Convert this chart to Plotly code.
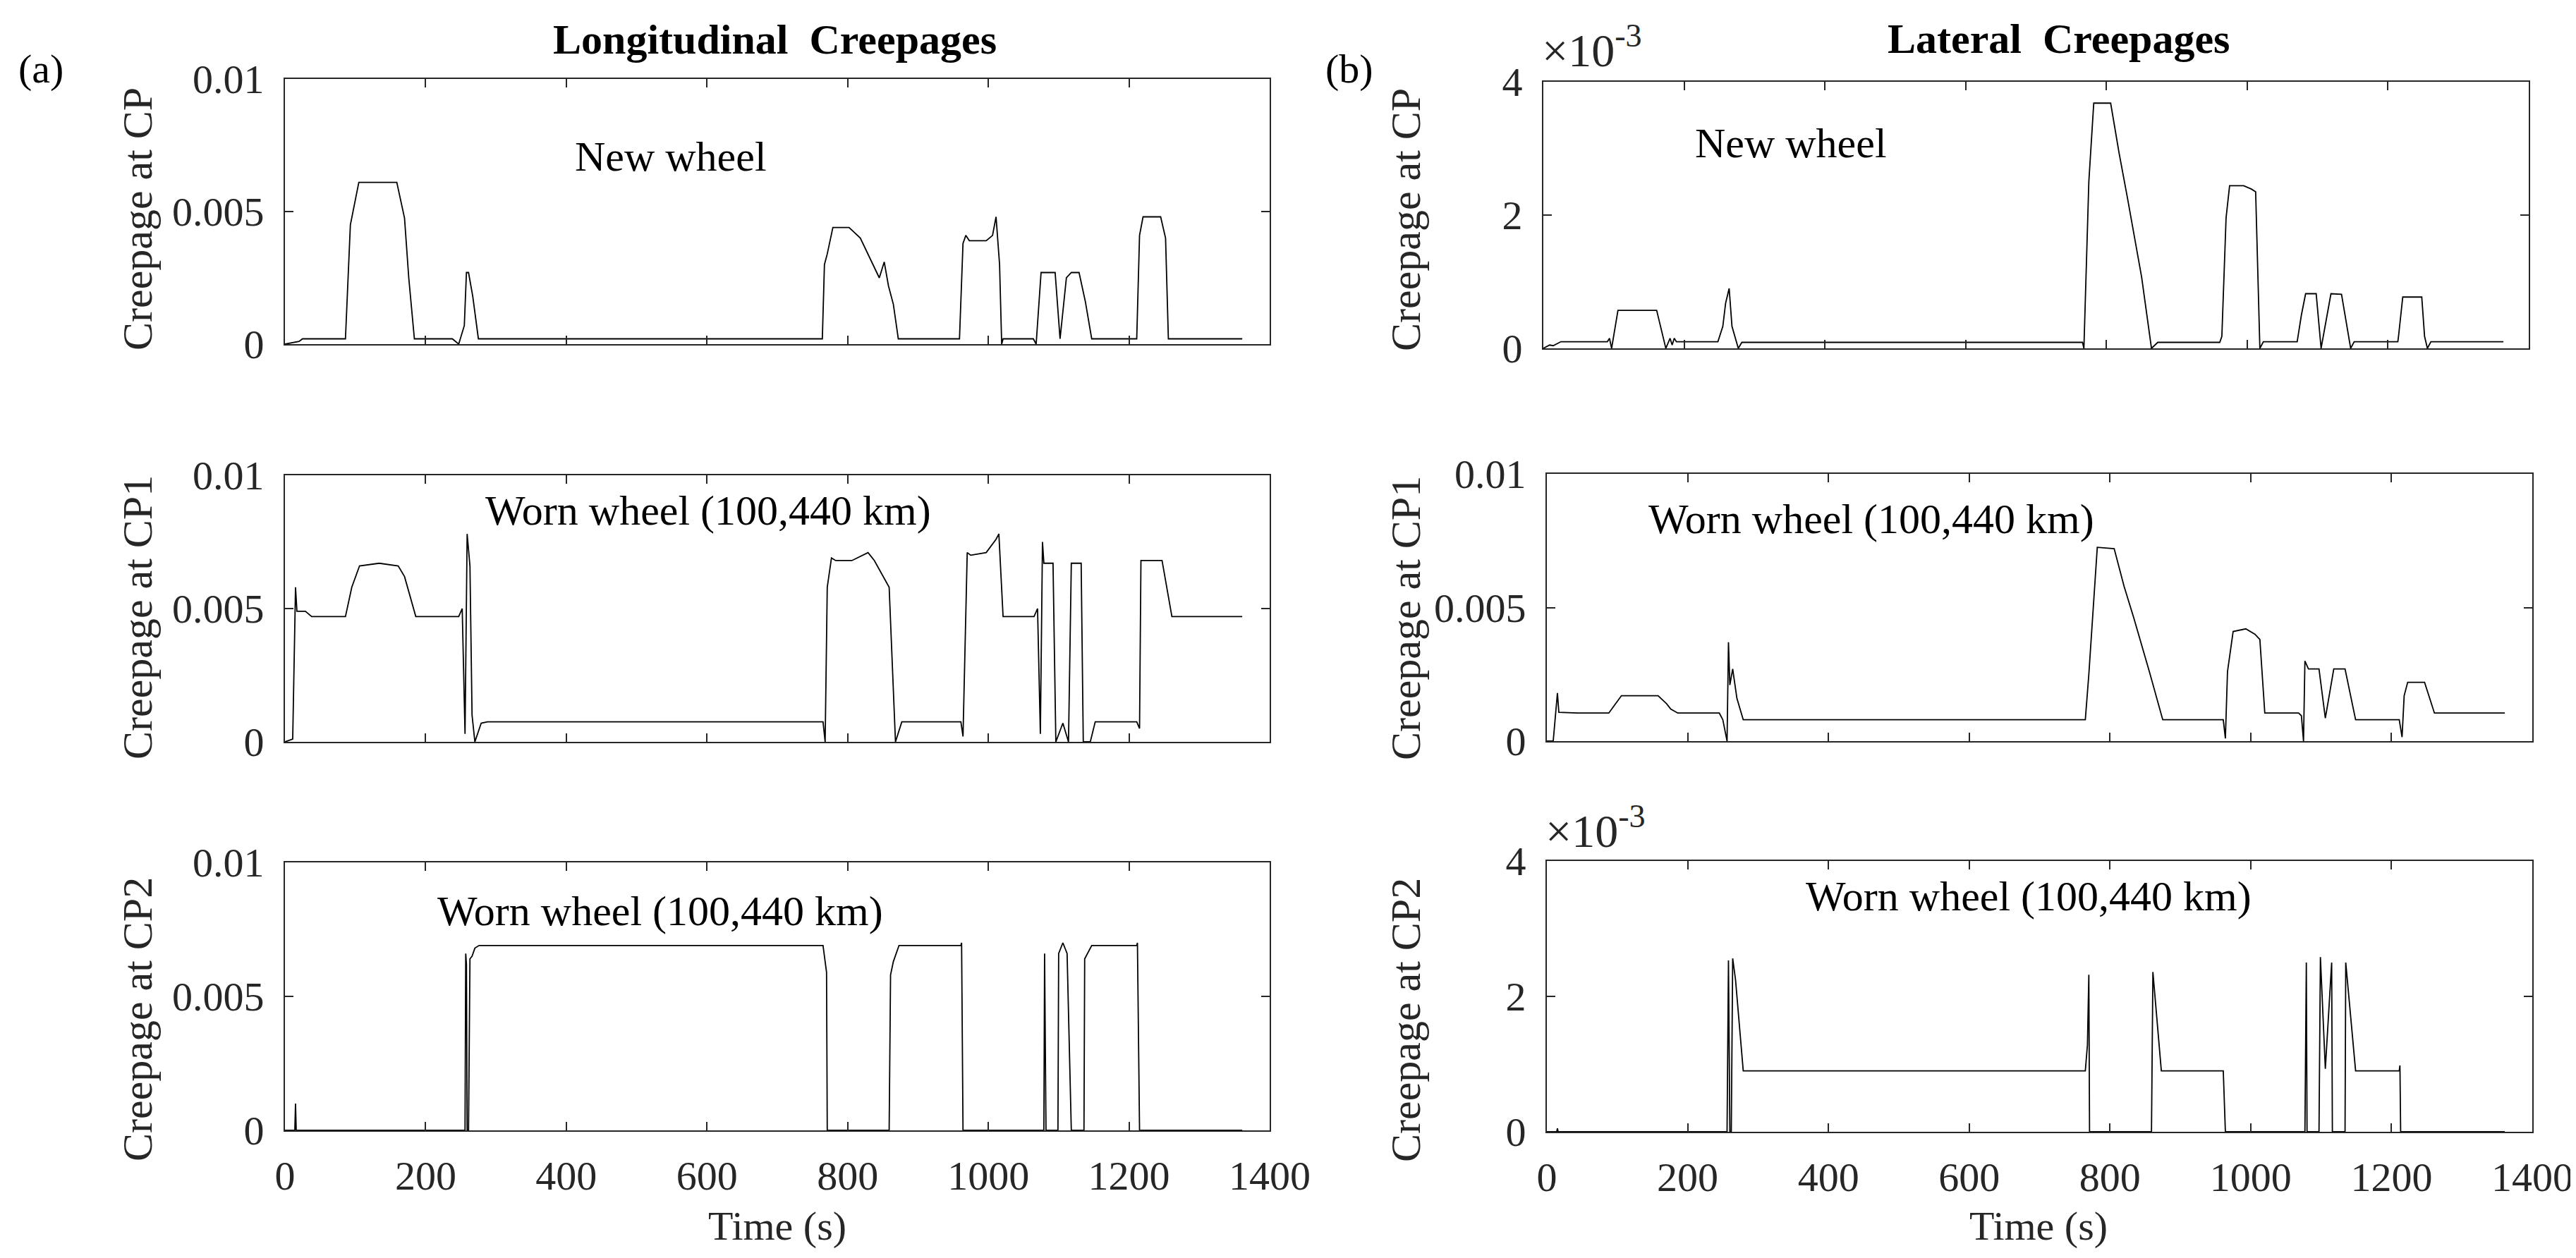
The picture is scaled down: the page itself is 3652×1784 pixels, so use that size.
import plotly.graph_objects as go
from plotly.subplots import make_subplots

# ---- data (time in s) ----
# (a) longitudinal creepage, new wheel, CP
t_long_cp = [0, 20, 25, 86, 93, 105, 159, 170, 176, 184, 238, 247, 255, 258, 261, 267, 275,
             764, 767, 771, 779, 802, 818, 827, 845, 852, 858, 865, 872,
             959, 964, 968, 973, 997, 1006, 1011, 1016, 1019, 1021,
             1064, 1068, 1075, 1082, 1095, 1102, 1111, 1118, 1129, 1138, 1147,
             1211, 1215, 1220, 1245, 1252, 1256, 1361]
v_long_cp = [0, 0.0001, 0.0002, 0.0002, 0.0045, 0.0061, 0.0061, 0.00475, 0.0025, 0.0002, 0.0002, 0, 0.0007, 0.0027, 0.0027, 0.0018, 0.0002,
             0.0002, 0.003, 0.0034, 0.0044, 0.0044, 0.004, 0.0035, 0.0025, 0.0031, 0.0022, 0.0015, 0.0002,
             0.0002, 0.0038, 0.0041, 0.0039, 0.0039, 0.0041, 0.0048, 0.003, 0, 0.0002,
             0.0002, 0, 0.0027, 0.0027, 0.0027, 0.0002, 0.0025, 0.0027, 0.0027, 0.0016, 0.0002,
             0.0002, 0.0041, 0.0048, 0.0048, 0.004, 0.0002, 0.0002]

# (a) longitudinal creepage, worn wheel, CP1
t_long_cp1 = [0, 11, 15, 17, 29, 38, 86, 95, 106, 134, 161, 170, 186, 247, 252, 256, 259, 263, 266, 270, 279, 288, 297,
              765, 768, 771, 777, 783, 806, 829, 838, 859, 868, 877,
              961, 964, 970, 975, 997, 1011, 1015, 1021, 1065, 1070, 1074, 1077, 1079, 1083, 1092, 1096,
              1106, 1114, 1118, 1132, 1135, 1145, 1152, 1211, 1215, 1217, 1225, 1247, 1261, 1361]
v_long_cp1 = [0, 0.0001, 0.0058, 0.0049, 0.0049, 0.0047, 0.0047, 0.0058, 0.0066, 0.0067, 0.0066, 0.0062, 0.0047, 0.0047, 0.005, 0.0003, 0.0078, 0.0066, 0.001, 0, 0.0007, 0.00075, 0.00075,
              0.00075, 0, 0.0058, 0.0069, 0.0068, 0.0068, 0.0071, 0.0068, 0.0058, 0, 0.00075,
              0.00075, 0.0002, 0.0071, 0.007, 0.0071, 0.0076, 0.0078, 0.0047, 0.0047, 0.005, 0.0003, 0.0075, 0.0067, 0.0067, 0.0067, 0,
              0.0007, 0, 0.0067, 0.0067, 0, 0, 0.00075, 0.00075, 0.0005, 0.0068, 0.0068, 0.0068, 0.0047, 0.0047]

# (a) longitudinal creepage, worn wheel, CP2
t_long_cp2 = [0, 14, 15, 16, 256, 257, 258, 259, 261, 263, 266, 270, 276, 294, 765, 770, 771,
              859, 861, 865, 873, 961, 962, 964, 1079, 1080, 1082, 1099, 1100, 1106, 1112, 1118,
              1136, 1137, 1147, 1211, 1212, 1215, 1361]
v_long_cp2 = [0, 0, 0.001, 0, 0, 0.0066, 0.0062, 0, 0, 0.0064, 0.0065, 0.0068, 0.0069, 0.0069, 0.0069, 0.0059, 0,
              0, 0.0058, 0.0063, 0.0069, 0.0069, 0.007, 0, 0, 0.0066, 0, 0, 0.0066, 0.007, 0.0066, 0,
              0, 0.0064, 0.0069, 0.0069, 0.007, 0, 0]

# (b) lateral creepage, new wheel, CP  (x 1e-3)
t_lat_cp = [0, 9, 14, 25, 91, 94, 97, 106, 161, 174, 180, 183, 186, 189, 248, 255, 259, 264, 268, 277, 282,
            766, 768, 775, 782, 806, 818, 830, 850, 864, 873, 961, 964, 970, 975, 995, 1006, 1012, 1018, 1023,
            1071, 1077, 1083, 1098, 1105, 1114, 1119, 1134, 1141, 1147, 1152,
            1214, 1215, 1221, 1248, 1252, 1256, 1261, 1364]
v_lat_cp = [0, 0.05, 0.04, 0.1, 0.1, 0.15, 0, 0.57, 0.57, 0, 0.15, 0.05, 0.15, 0.1, 0.1, 0.33, 0.68, 0.9, 0.33, 0, 0.09,
            0.09, 0, 2.5, 3.68, 3.68, 2.93, 2.25, 1.07, 0, 0.09, 0.09, 0.18, 1.96, 2.44, 2.44, 2.39, 2.35, 0, 0.1,
            0.1, 0.5, 0.82, 0.82, 0, 0.55, 0.82, 0.81, 0.37, 0, 0.1,
            0.1, 0.18, 0.77, 0.77, 0.18, 0, 0.1, 0.1]

# (b) lateral creepage, worn wheel, CP1
t_lat_cp1 = [0, 9, 15, 17, 43, 88, 106, 158, 170, 176, 186, 245, 250, 256, 258, 260, 264, 270, 279,
             765, 770, 782, 806, 820, 834, 856, 875, 961, 964, 967, 975, 993, 1006, 1013, 1020,
             1068, 1072, 1075, 1077, 1082, 1097, 1106, 1118, 1134, 1149,
             1211, 1215, 1218, 1223, 1247, 1261, 1361]
v_lat_cp1 = [0, 0, 0.0018, 0.00108, 0.00105, 0.00105, 0.0017, 0.0017, 0.0014, 0.0012, 0.00105, 0.00105, 0.0008, 0, 0.0037, 0.0021, 0.0027, 0.0016, 0.0008,
             0.0008, 0.0025, 0.00725, 0.0072, 0.0058, 0.0046, 0.0026, 0.0008, 0.0008, 0.0001, 0.0026, 0.0041, 0.0042, 0.004, 0.0038, 0.00105,
             0.00105, 0.00095, 0, 0.003, 0.0027, 0.0027, 0.00086, 0.0027, 0.0027, 0.0008,
             0.0008, 0.00015, 0.0017, 0.0022, 0.0022, 0.00105, 0.00105]

# (b) lateral creepage, worn wheel, CP2  (x 1e-3)
t_lat_cp2 = [0, 14, 15, 16, 256, 258, 260, 262, 264, 268, 279, 765, 768, 770, 771, 859, 861, 873, 961, 964,
             1077, 1079, 1080, 1097, 1099, 1106, 1115, 1116, 1134, 1135, 1149, 1211, 1212, 1213, 1361]
v_lat_cp2 = [0, 0, 0.05, 0, 0, 2.53, 0, 0, 2.56, 2.25, 0.9, 0.9, 1.28, 2.32, 0, 0, 2.36, 0.9, 0.9, 0,
             0, 2.5, 0, 0, 2.58, 0.93, 2.5, 0, 0, 2.5, 0.9, 0.9, 0.98, 0, 0]

time_ticks = [0, 200, 400, 600, 800, 1000, 1200, 1400]
long_ticks = [0, 0.005, 0.01]
long_ticktext = ["0", "0.005", "0.01"]
small_ticks = [0, 2, 4]

W, H = 3652, 1784
FONT = "Liberation Serif"
AX = "#262626"


def px(x):
    return x / W


def py(y):
    return 1 - y / H


series = [
    (1, 1, t_long_cp, v_long_cp), (1, 2, t_lat_cp, v_lat_cp),
    (2, 1, t_long_cp1, v_long_cp1), (2, 2, t_lat_cp1, v_lat_cp1),
    (3, 1, t_long_cp2, v_long_cp2), (3, 2, t_lat_cp2, v_lat_cp2),
]

fig = make_subplots(rows=3, cols=2)
for r, c, t, v in series:
    assert len(t) == len(v), (r, c, len(t), len(v))
    fig.add_trace(go.Scatter(x=t, y=v, mode="lines", line=dict(color="black", width=1.8),
                             showlegend=False, hoverinfo="skip"), row=r, col=c)

# panel boxes in pixels: (left, right, top, bottom)
boxes = {
    (1, 1): (396, 1792, 104, 480), (1, 2): (2180, 3577, 108, 486),
    (2, 1): (396, 1792, 666, 1044), (2, 2): (2185, 3582, 664, 1043),
    (3, 1): (396, 1792, 1215, 1595), (3, 2): (2185, 3582, 1213, 1597),
}

tickfont = dict(family=FONT, size=58, color=AX)
for (r, c), (x0, x1, y0, y1) in boxes.items():
    n = (r - 1) * 2 + c
    xa = "xaxis" if n == 1 else "xaxis%d" % n
    ya = "yaxis" if n == 1 else "yaxis%d" % n
    fig.layout[xa].update(domain=[px(x0), px(x1)], range=[0, 1400], tickvals=time_ticks,
                          showticklabels=(r == 3), ticks="inside", ticklen=12, tickcolor=AX,
                          tickwidth=2, showline=True, mirror="allticks", linecolor=AX, linewidth=2,
                          showgrid=False, zeroline=False, tickfont=tickfont, ticklabelstandoff=12,
                          automargin=False)
    if c == 2 and r != 2:
        yrange, yt, ytt = [0, 4], small_ticks, [str(s) for s in small_ticks]
    else:
        yrange, yt, ytt = [0, 0.01], long_ticks, long_ticktext
    fig.layout[ya].update(domain=[py(y1), py(y0)], range=yrange, tickvals=yt, ticktext=ytt,
                          ticks="inside", ticklen=12, tickcolor=AX, tickwidth=2,
                          showline=True, mirror="allticks", linecolor=AX, linewidth=2,
                          showgrid=False, zeroline=False, tickfont=tickfont, ticklabelstandoff=16,
                          automargin=False)


def note(text, x, y, size=60, bold=False, angle=0, xanchor="center", yanchor="middle", color="black"):
    if bold:
        text = "<b>" + text + "</b>"
    fig.add_annotation(text=text, x=px(x), y=py(y), xref="paper", yref="paper", showarrow=False,
                       xanchor=xanchor, yanchor=yanchor, textangle=angle,
                       font=dict(family=FONT, size=size, color=color))


note("Longitudinal\u00a0 Creepages", 1090, 48, bold=True)
note("Lateral\u00a0 Creepages", 2910, 47, bold=True)
note("(a)", 50, 90, size=58)
note("(b)", 1905, 90, size=58)

for yc, lab in [(303, "Creepage at CP"), (868, "Creepage at CP1"), (1438, "Creepage at CP2")]:
    note(lab, 187, yc, angle=-90, color=AX)
    note(lab, 1985, yc, angle=-90, color=AX)

note("New wheel", 943, 214)
note("Worn wheel (100,440 km)", 996, 716)
note("Worn wheel (100,440 km)", 928, 1284)
note("New wheel", 2531, 195)
note("Worn wheel (100,440 km)", 2645, 728)
note("Worn wheel (100,440 km)", 2868, 1263)

note("\u00d710<sup>-3</sup>", 2176, 102, size=66, xanchor="left", yanchor="bottom", color=AX)
note("\u00d710<sup>-3</sup>", 2181, 1209, size=66, xanchor="left", yanchor="bottom", color=AX)

note("Time (s)", 1094, 1730, size=58, color=AX)
note("Time (s)", 2882, 1730, size=58, color=AX)

fig.update_layout(template="none", width=W, height=H, margin=dict(l=0, r=0, t=0, b=0, pad=0),
                  plot_bgcolor="white", paper_bgcolor="white")

fig.write_html("out.html")
